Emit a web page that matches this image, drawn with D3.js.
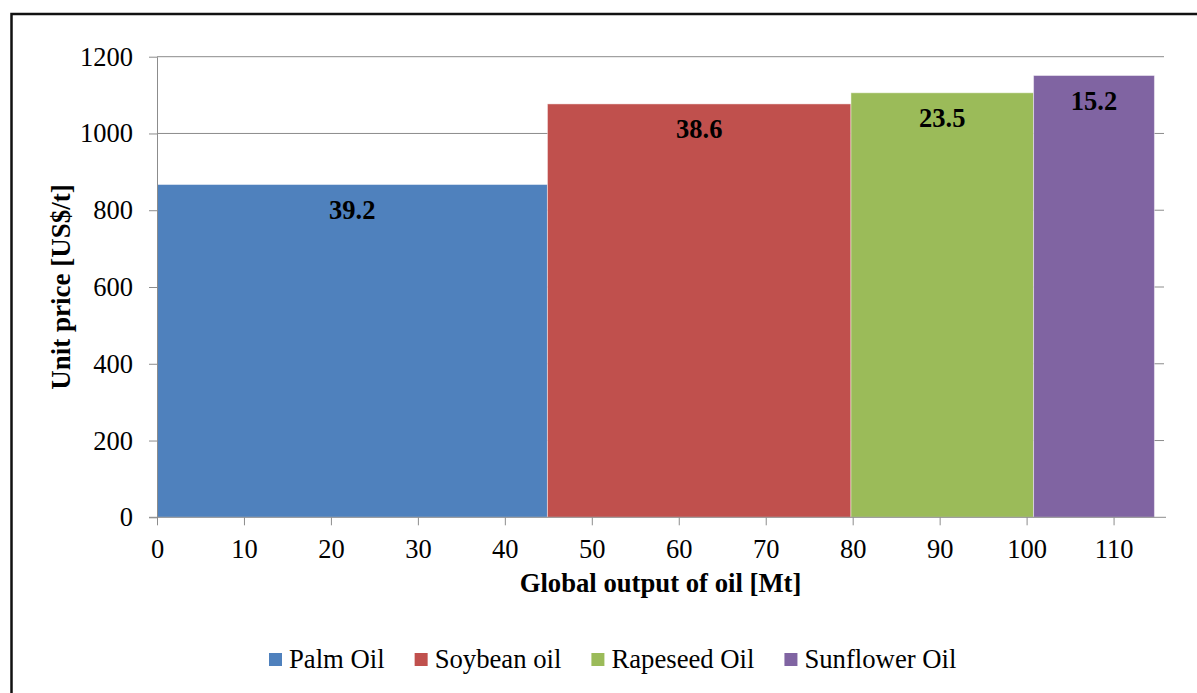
<!DOCTYPE html>
<html>
<head>
<meta charset="utf-8">
<script src="https://cdn.jsdelivr.net/npm/d3@7"></script>
<style>
  body { margin: 0; background: #fff; }
  svg { display: block; font-family: "Liberation Serif", "Times New Roman", serif; }
</style>
</head>
<body>
<svg id="chart"></svg>
<script>
const width = 1197;
const height = 693;

// data
const oils = ["Palm Oil", "Soybean oil", "Rapeseed Oil", "Sunflower Oil"];
const outputStart = [0, 44.9, 79.8, 100.8];
const outputEnd = [44.9, 79.8, 100.8, 114.7];
const prices = [867, 1077, 1106, 1151];
const barLabels = ["39.2", "38.6", "23.5", "15.2"];
const colors = ["#4F81BD", "#C0504D", "#9BBB59", "#8064A2"];
const xTicks = [0, 10, 20, 30, 40, 50, 60, 70, 80, 90, 100, 110];
const yTicks = [0, 200, 400, 600, 800, 1000, 1200];

const svg = d3.select("#chart").attr("width", width).attr("height", height);

// outer frame (cut off at right and bottom like the original)
svg.append("rect")
  .attr("x", 11.5).attr("y", 14)
  .attr("width", 1200).attr("height", 700)
  .attr("fill", "none")
  .attr("stroke", "#111")
  .attr("stroke-width", 2.5);

const xScale = d3.scaleLinear().domain([0, 115.8]).range([157, 1164]);
const yScale = d3.scaleLinear().domain([0, 1200]).range([517.3, 56.7]);

// gridlines
svg.append("g")
  .selectAll("line")
  .data(yTicks.slice(1))
  .join("line")
  .attr("x1", xScale(0)).attr("x2", xScale(115.8))
  .attr("y1", d => yScale(d)).attr("y2", d => yScale(d))
  .attr("stroke", "#8c8c8c")
  .attr("stroke-width", 1);

// bars
const bars = oils.map((name, i) => ({
  name: name,
  x0: outputStart[i],
  x1: outputEnd[i],
  price: prices[i],
  label: barLabels[i],
  color: colors[i]
}));

svg.append("g")
  .selectAll("rect")
  .data(bars)
  .join("rect")
  .attr("x", d => xScale(d.x0))
  .attr("width", d => xScale(d.x1) - xScale(d.x0))
  .attr("y", d => yScale(d.price))
  .attr("height", d => yScale(0) - yScale(d.price))
  .attr("fill", d => d.color)
  .attr("stroke", "rgba(255,255,255,0.45)")
  .attr("stroke-width", 1);

svg.append("g")
  .selectAll("text")
  .data(bars)
  .join("text")
  .attr("x", d => (xScale(d.x0) + xScale(d.x1)) / 2)
  .attr("y", d => yScale(d.price) + 34.5)
  .attr("text-anchor", "middle")
  .attr("font-weight", "bold")
  .attr("font-size", 26.5)
  .attr("fill", "#000")
  .text(d => d.label);

// axes
const xAxis = d3.axisBottom(xScale).tickValues(xTicks).tickFormat(d3.format("d"))
  .tickSize(8).tickPadding(14).tickSizeOuter(0);
const yAxis = d3.axisLeft(yScale).tickValues(yTicks).tickFormat(d3.format("d"))
  .tickSize(8).tickPadding(16).tickSizeOuter(0);

const gx = svg.append("g")
  .attr("transform", "translate(0," + yScale(0) + ")")
  .call(xAxis);
gx.select(".domain").attr("d", "M149,0H1166");

const gy = svg.append("g")
  .attr("transform", "translate(" + xScale(0) + ",0)")
  .call(yAxis);

svg.selectAll(".domain, .tick line").attr("stroke", "#8c8c8c");
svg.selectAll(".tick text")
  .attr("font-family", "Liberation Serif, Times New Roman, serif")
  .attr("font-size", 26.5)
  .attr("fill", "#000");

// axis titles
svg.append("text")
  .attr("x", (xScale(0) + xScale(115.8)) / 2)
  .attr("y", 592)
  .attr("text-anchor", "middle")
  .attr("font-weight", "bold")
  .attr("font-size", 26.7)
  .text("Global output of oil [Mt]");

svg.append("text")
  .attr("transform", "translate(70," + (yScale(0) + yScale(1200)) / 2 + ") rotate(-90)")
  .attr("text-anchor", "middle")
  .attr("font-weight", "bold")
  .attr("font-size", 27)
  .text("Unit price [US$/t]");

// legend
const legend = svg.append("g");
let lx = 269;
oils.forEach((name, i) => {
  legend.append("rect")
    .attr("x", lx).attr("y", 653)
    .attr("width", 13).attr("height", 13)
    .attr("fill", colors[i]);
  const t = legend.append("text")
    .attr("x", lx + 20)
    .attr("y", 668)
    .attr("font-size", 26.7)
    .text(name);
  lx += 20 + t.node().getComputedTextLength() + 30;
});
</script>
</body>
</html>
